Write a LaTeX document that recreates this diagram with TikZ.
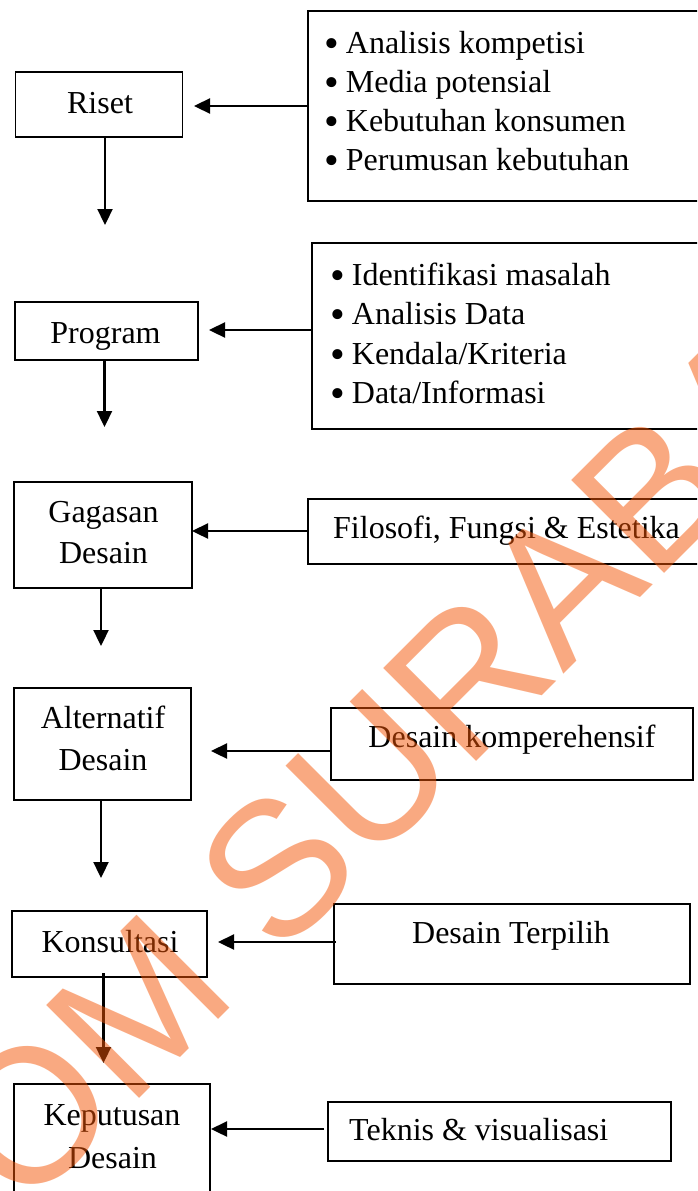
\documentclass[tikz,border=0pt]{standalone}
\usepackage{fontspec}
\setmainfont{Liberation Serif}
\newfontfamily\wmfont{Liberation Sans}
\usetikzlibrary{arrows.meta}
\definecolor{wmcol}{RGB}{245,85,5}
\tikzset{
  box/.style={draw=black, line width=1.8pt, rectangle, inner sep=0pt},
  lbl/.style={inner sep=0pt, anchor=base, font=\fontsize{32}{40}\selectfont},
  item/.style={inner sep=0pt, anchor=base west, font=\fontsize{32}{40}\selectfont},
  arr/.style={line width=2.3pt, -{Triangle[length=16pt,width=15pt]}},
}
\newcommand{\bul}{\raisebox{-4pt}{\fontsize{42}{42}\selectfont\textbullet}\hspace{7pt}}
\begin{document}
\begin{tikzpicture}[x=1pt,y=-1pt]
\useasboundingbox (0,0) rectangle (697,1191);
\clip (0,0) rectangle (697,1191);
\fill[white] (0,0) rectangle (697,1191);

% left column boxes
\node[box, minimum width=167pt, minimum height=65pt] (riset) at (99,104.5) {};
\node[box, minimum width=183pt, minimum height=58pt] (prog) at (106.5,331) {};
\node[box, minimum width=178pt, minimum height=106pt] (gag) at (103,535) {};
\node[box, minimum width=177pt, minimum height=112pt] (alt) at (102.5,744) {};
\node[box, minimum width=195pt, minimum height=66pt] (kon) at (109.5,944) {};
\node[box, minimum width=196pt, minimum height=125pt] (kep) at (112,1146.5) {};

\node[lbl] (tris) at (100,113) {Riset};
\node[lbl] (tprog) at (105.5,343) {Program};
\node[lbl] (tgag1) at (103.5,522) {Gagasan};
\node[lbl] (tgag2) at (103.5,563) {Desain};
\node[lbl] (talt1) at (103,728) {Alternatif};
\node[lbl] (talt2) at (103,770) {Desain};
\node[lbl] (tkon) at (110,952) {Konsultasi};
\node[lbl] (tkep1) at (112,1125) {Keputusan};
\node[lbl] (tkep2) at (112.5,1168) {Desain};

% right column boxes
\node[box, anchor=north west, minimum width=400pt, minimum height=190pt] (b1) at (307,10) {};
\node[box, anchor=north west, minimum width=396pt, minimum height=186pt] (b2) at (311,242) {};
\node[box, anchor=north west, minimum width=400pt, minimum height=65pt] (b3) at (307,498) {};
\node[box, anchor=north west, minimum width=362pt, minimum height=72pt] (b4) at (330,707) {};
\node[box, anchor=north west, minimum width=356pt, minimum height=80pt] (b5) at (333,903) {};
\node[box, anchor=north west, minimum width=343pt, minimum height=59pt] (b6) at (327,1101) {};

\node[item] (l11) at (324,53) {\bul Analisis kompetisi};
\node[item] (l12) at (324,92) {\bul Media potensial};
\node[item] (l13) at (324,131) {\bul Kebutuhan konsumen};
\node[item] (l14) at (324,170) {\bul Perumusan kebutuhan};
\node[item] (l21) at (330,285) {\bul Identifikasi masalah};
\node[item] (l22) at (330,324) {\bul Analisis Data};
\node[item] (l23) at (330,364) {\bul Kendala/Kriteria};
\node[item] (l24) at (330,403) {\bul Data/Informasi};
\node[item] (t3) at (333,538) {Filosofi, Fungsi \& Estetika};
\node[lbl] (t4) at (512,747) {Desain komperehensif};
\node[lbl] (t5) at (511,943) {Desain Terpilih};
\node[item] (t6) at (349,1140) {Teknis \& visualisasi};

% arrow tips
\coordinate (h1) at (194,106);
\coordinate (h2) at (209,330);
\coordinate (h3) at (192,531);
\coordinate (h4) at (211,751);
\coordinate (h5) at (218,942);
\coordinate (h6) at (211,1129);
\coordinate (v1) at (105,225);
\coordinate (v2) at (104.5,427);
\coordinate (v3) at (101,646);
\coordinate (v4) at (101,878);
\coordinate (v5) at (103.5,1063);
\coordinate (v5s) at (103.5,973);
\coordinate (s5) at (336,942);
\coordinate (s6) at (324,1129);

% horizontal arrows
\draw[arr] (b1.west |- h1) -- (h1);
\draw[arr] (b2.west |- h2) -- (h2);
\draw[arr] (b3.west |- h3) -- (h3);
\draw[arr] (b4.west |- h4) -- (h4);
\draw[arr] (s5) -- (h5);
\draw[arr] (s6) -- (h6);

% vertical arrows
\draw[arr] (riset.south -| v1) -- (v1);
\draw[arr] (prog.south -| v2) -- (v2);
\draw[arr] (gag.south -| v3) -- (v3);
\draw[arr] (alt.south -| v4) -- (v4);
\draw[arr] (v5s) -- (v5);

% watermark
\node[rotate=45, text=wmcol, opacity=0.5, inner sep=0pt,
  font=\wmfont\fontsize{191}{191}\selectfont] (wm) at (312,833) {STIKOM SURABAYA};
\end{tikzpicture}
\end{document}
